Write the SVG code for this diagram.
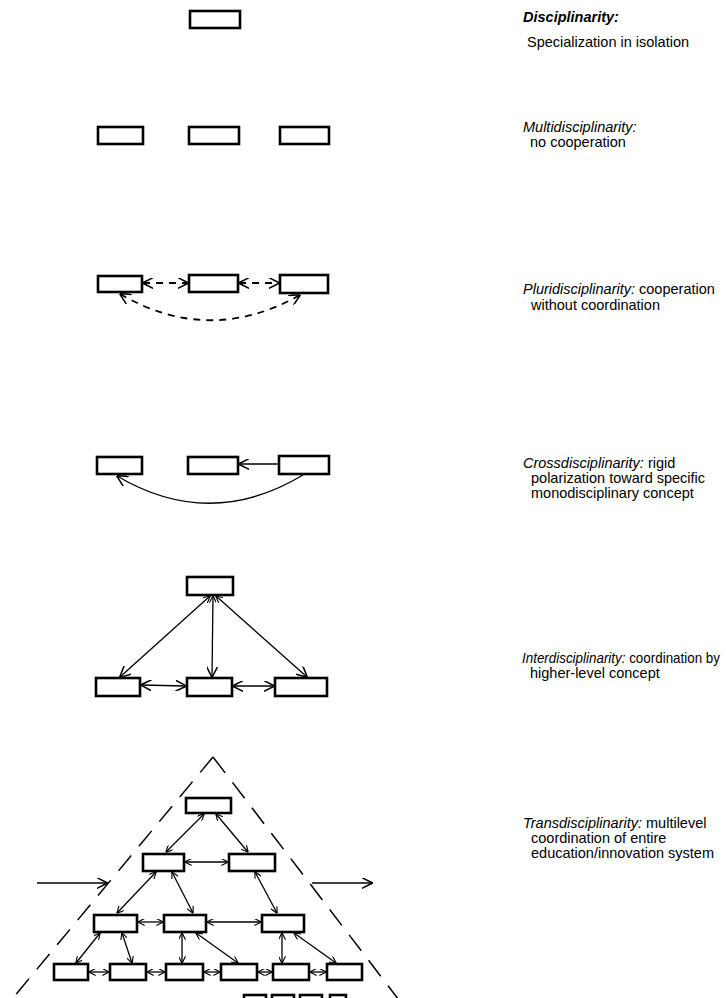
<svg xmlns="http://www.w3.org/2000/svg" width="726" height="998" viewBox="0 0 726 998">
<defs>
<style>
.box{fill:#fff;stroke:#000;stroke-width:2.6}
.ln{fill:none;stroke:#000;stroke-width:1.3}
.dash{fill:none;stroke:#000;stroke-width:1.8;stroke-dasharray:7 6}
.pyr{fill:none;stroke:#000;stroke-width:1.5;stroke-dasharray:20 12}
.t{font-family:"Liberation Sans",Arial,sans-serif;font-size:14.5px;fill:#000}
.i{font-style:italic}
.b{font-weight:bold}
</style>
<marker id="ah" viewBox="0 0 10 10" refX="9.5" refY="5" markerWidth="7" markerHeight="7" markerUnits="userSpaceOnUse" orient="auto-start-reverse">
<path d="M0,0 L10,5 L0,10" fill="none" stroke="#000" stroke-width="1.6"/>
</marker>
<marker id="ahL" viewBox="0 0 10 10" refX="9.5" refY="5" markerWidth="11" markerHeight="11" markerUnits="userSpaceOnUse" orient="auto-start-reverse">
<path d="M0,0 L10,5 L0,10" fill="none" stroke="#000" stroke-width="1.4"/>
</marker>
</defs>
<rect width="726" height="998" fill="#fff"/>

<g id="connectors">
<!-- Pluridisciplinarity -->
<line class="dash" x1="143" y1="283" x2="188" y2="283" marker-start="url(#ahL)" marker-end="url(#ahL)"/>
<line class="dash" x1="239" y1="283" x2="279" y2="283" marker-start="url(#ahL)" marker-end="url(#ahL)"/>
<path class="dash" d="M120,294 Q210,346 300,295" marker-start="url(#ahL)" marker-end="url(#ahL)"/>
<!-- Crossdisciplinarity -->
<line class="ln" x1="279" y1="464" x2="239" y2="464" marker-end="url(#ahL)"/>
<path class="ln" d="M303,475 Q210,531 117,476" marker-end="url(#ahL)"/>
<!-- Interdisciplinarity -->
<line class="ln" x1="210" y1="596" x2="120" y2="677" marker-start="url(#ah)" marker-end="url(#ahL)"/>
<line class="ln" x1="213" y1="596" x2="212" y2="677" marker-start="url(#ah)" marker-end="url(#ahL)"/>
<line class="ln" x1="216" y1="596" x2="307" y2="677" marker-start="url(#ah)" marker-end="url(#ahL)"/>
<line class="ln" x1="141" y1="685" x2="186" y2="686" marker-start="url(#ahL)" marker-end="url(#ahL)"/>
<line class="ln" x1="233" y1="686" x2="274" y2="686" marker-start="url(#ahL)" marker-end="url(#ahL)"/>
<!-- Transdisciplinarity -->
<path class="pyr" d="M213,757 L8,1004"/>
<path class="pyr" d="M213,757 L402,1004"/>
<line class="ln" x1="37" y1="883" x2="107" y2="883" stroke-width="1.6" marker-end="url(#ahL)"/>
<line class="ln" x1="312" y1="883" x2="372" y2="883" stroke-width="1.6" marker-end="url(#ahL)"/>
<line class="ln" x1="204" y1="814" x2="166" y2="852" marker-start="url(#ah)" marker-end="url(#ah)"/>
<line class="ln" x1="216" y1="814" x2="248" y2="852" marker-start="url(#ah)" marker-end="url(#ah)"/>
<line class="ln" x1="185" y1="862" x2="228" y2="862" marker-start="url(#ah)" marker-end="url(#ah)"/>
<line class="ln" x1="156" y1="872" x2="117" y2="913" marker-start="url(#ah)" marker-end="url(#ah)"/>
<line class="ln" x1="172" y1="872" x2="193" y2="913" marker-start="url(#ah)" marker-end="url(#ah)"/>
<line class="ln" x1="255" y1="872" x2="277" y2="913" marker-start="url(#ah)" marker-end="url(#ah)"/>
<line class="ln" x1="138" y1="922" x2="163" y2="922" marker-start="url(#ah)" marker-end="url(#ah)"/>
<line class="ln" x1="207" y1="922" x2="261" y2="922" marker-start="url(#ah)" marker-end="url(#ah)"/>
<line class="ln" x1="100" y1="933" x2="76" y2="963" marker-start="url(#ah)" marker-end="url(#ah)"/>
<line class="ln" x1="122" y1="933" x2="132" y2="963" marker-start="url(#ah)" marker-end="url(#ah)"/>
<line class="ln" x1="182" y1="933" x2="182" y2="963" marker-start="url(#ah)" marker-end="url(#ah)"/>
<line class="ln" x1="196" y1="933" x2="238" y2="963" marker-start="url(#ah)" marker-end="url(#ah)"/>
<line class="ln" x1="282" y1="933" x2="282" y2="963" marker-start="url(#ah)" marker-end="url(#ah)"/>
<line class="ln" x1="294" y1="933" x2="336" y2="963" marker-start="url(#ah)" marker-end="url(#ah)"/>
<line class="ln" x1="89" y1="972" x2="109" y2="972" marker-start="url(#ah)" marker-end="url(#ah)"/>
<line class="ln" x1="147" y1="972" x2="165" y2="972" marker-start="url(#ah)" marker-end="url(#ah)"/>
<line class="ln" x1="204" y1="972" x2="220" y2="972" marker-start="url(#ah)" marker-end="url(#ah)"/>
<line class="ln" x1="258" y1="972" x2="272" y2="972" marker-start="url(#ah)" marker-end="url(#ah)"/>
<line class="ln" x1="310" y1="972" x2="326" y2="972" marker-start="url(#ah)" marker-end="url(#ah)"/>
</g>

<g id="disciplinarity">
<rect class="box" x="190" y="11" width="50" height="17"/>
<text class="t i b" x="523" y="22">Disciplinarity:</text>
<text class="t" x="527" y="47">Specialization in isolation</text>
</g>

<g id="multidisciplinarity">
<rect class="box" x="98" y="127" width="45" height="17"/>
<rect class="box" x="189" y="127" width="50" height="17"/>
<rect class="box" x="280" y="127" width="49" height="17"/>
<text class="t i" x="523" y="132">Multidisciplinarity:</text>
<text class="t" x="530" y="147">no cooperation</text>
</g>

<g id="pluridisciplinarity">
<rect class="box" x="98" y="276" width="44" height="16"/>
<rect class="box" x="189" y="275" width="49" height="17"/>
<rect class="box" x="280" y="275" width="48" height="18"/>
<text class="t" x="523" y="294"><tspan class="i">Pluridisciplinarity:</tspan> cooperation</text>
<text class="t" x="531" y="310">without coordination</text>
</g>

<g id="crossdisciplinarity">
<rect class="box" x="97" y="457" width="45" height="17"/>
<rect class="box" x="188" y="457" width="50" height="17"/>
<rect class="box" x="279" y="456" width="50" height="18"/>
<text class="t" x="523" y="468"><tspan class="i">Crossdisciplinarity:</tspan> rigid</text>
<text class="t" x="531" y="483">polarization toward specific</text>
<text class="t" x="531" y="498">monodisciplinary concept</text>
</g>

<g id="interdisciplinarity">
<rect class="box" x="187" y="577" width="46" height="18"/>
<rect class="box" x="96" y="678" width="44" height="18"/>
<rect class="box" x="187" y="678" width="45" height="18"/>
<rect class="box" x="275" y="678" width="52" height="18"/>
<text class="t" x="522" y="663" textLength="198" lengthAdjust="spacingAndGlyphs"><tspan class="i">Interdisciplinarity:</tspan> coordination by</text>
<text class="t" x="530" y="678">higher-level concept</text>
</g>

<g id="transdisciplinarity">
<rect class="box" x="186" y="798" width="45" height="15"/>
<rect class="box" x="143" y="854" width="41" height="17"/>
<rect class="box" x="229" y="854" width="46" height="17"/>
<rect class="box" x="94" y="915" width="43" height="17"/>
<rect class="box" x="164" y="915" width="42" height="17"/>
<rect class="box" x="262" y="915" width="42" height="17"/>
<rect class="box" x="54" y="964" width="34" height="16"/>
<rect class="box" x="110" y="964" width="36" height="16"/>
<rect class="box" x="166" y="964" width="37" height="16"/>
<rect class="box" x="221" y="964" width="36" height="16"/>
<rect class="box" x="273" y="964" width="36" height="16"/>
<rect class="box" x="327" y="964" width="35" height="16"/>
<rect class="box" x="244" y="995" width="22" height="12"/>
<rect class="box" x="272" y="995" width="22" height="12"/>
<rect class="box" x="300" y="995" width="22" height="12"/>
<rect class="box" x="330" y="995" width="16" height="12"/>
<text class="t" x="523" y="828"><tspan class="i">Transdisciplinarity:</tspan> multilevel</text>
<text class="t" x="531" y="843">coordination of entire</text>
<text class="t" x="531" y="858">education/innovation system</text>
</g>
</svg>
